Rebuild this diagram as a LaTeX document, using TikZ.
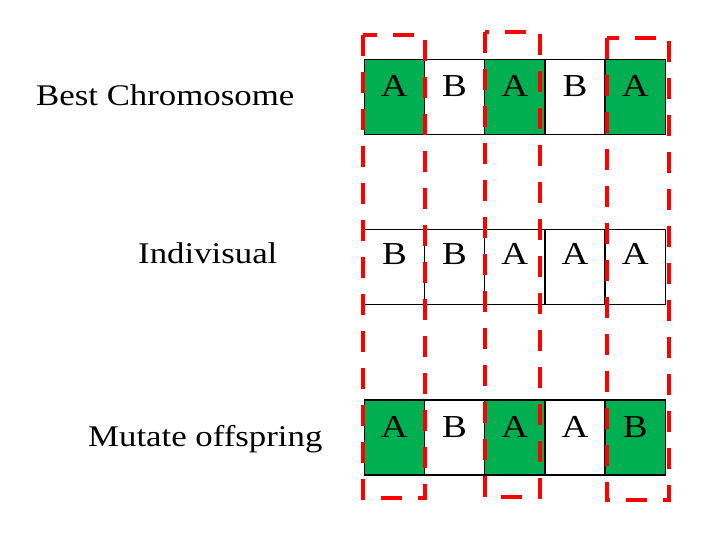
\documentclass[tikz,border=0pt]{standalone}
\usepackage{fontspec}
\setmainfont{Liberation Serif}
\definecolor{cellgreen}{RGB}{0,176,80}
\newcommand{\hwide}[1]{\scalebox{1.16}[1]{#1}}
\begin{document}
\begin{tikzpicture}[x=1pt,y=-1pt,
  cell/.style={rectangle,draw=black,line width=1.3pt,inner sep=0pt,outer sep=0pt,
    minimum width=60.2pt,text height=37.4pt,text depth=37.6pt,anchor=north west,
    font=\fontsize{32}{36}\selectfont},
  gcell/.style={cell,fill=cellgreen},
  wcell/.style={cell,fill=white},
  opencell/.style={rectangle,inner sep=0pt,outer sep=0pt,minimum width=60.2pt,
    text height=35.5pt,text depth=39.5pt,anchor=north west,font=\fontsize{32}{36}\selectfont},
  rowlabel/.style={anchor=base west,inner sep=0pt,font=\fontsize{30}{34}\selectfont},
  redbox/.style={draw=red,line width=4.5pt,dash pattern=on 21pt off 16pt}]
\useasboundingbox (0,0) rectangle (724,557);
% labels
\node[rowlabel] (l1) at (36,105) {\hwide{Best Chromosome}};
\node[rowlabel] (l2) at (138,263.5) {\hwide{Indivisual}};
\node[rowlabel] (l3) at (88,446) {\hwide{Mutate offspring}};
% row 1
\node[gcell] (a1) at (364.3,59.3) {\hwide{A}};
\node[wcell] (a2) at (a1.north east) {\hwide{B}};
\node[gcell] (a3) at (a2.north east) {\hwide{A}};
\node[wcell] (a4) at (a3.north east) {\hwide{B}};
\node[gcell] (a5) at (a4.north east) {\hwide{A}};
% row 2
\node[opencell] (b1) at (364.3,229.3) {\hwide{B}};
\node[opencell] (b2) at (b1.north east) {\hwide{B}};
\node[opencell] (b3) at (b2.north east) {\hwide{A}};
\node[opencell] (b4) at (b3.north east) {\hwide{A}};
\node[opencell] (b5) at (b4.north east) {\hwide{A}};
\draw[line width=1.3pt] (b1.north west) -- (b5.north east) -- (b5.south east) -- (b1.south west);
\draw[line width=1.3pt] (b1.north east) -- (b1.south east)
  (b2.north east) -- (b2.south east)
  (b3.north east) -- (b3.south east)
  (b4.north east) -- (b4.south east);
% row 3
\node[gcell] (c1) at (364.3,400) {\hwide{A}};
\node[wcell] (c2) at (c1.north east) {\hwide{B}};
\node[gcell] (c3) at (c2.north east) {\hwide{A}};
\node[wcell] (c4) at (c3.north east) {\hwide{A}};
\node[gcell] (c5) at (c4.north east) {\hwide{B}};
% red dashed boxes
\coordinate (r1a) at (363,35);  \coordinate (r1b) at (425,498);
\coordinate (r2a) at (485,32);  \coordinate (r2b) at (540,497);
\coordinate (r3a) at (607,38);  \coordinate (r3b) at (669,500);
\draw[redbox] (r1a) rectangle (r1b);
\draw[redbox] (r2a) rectangle (r2b);
\draw[redbox] (r3a) rectangle (r3b);
\end{tikzpicture}
\end{document}
